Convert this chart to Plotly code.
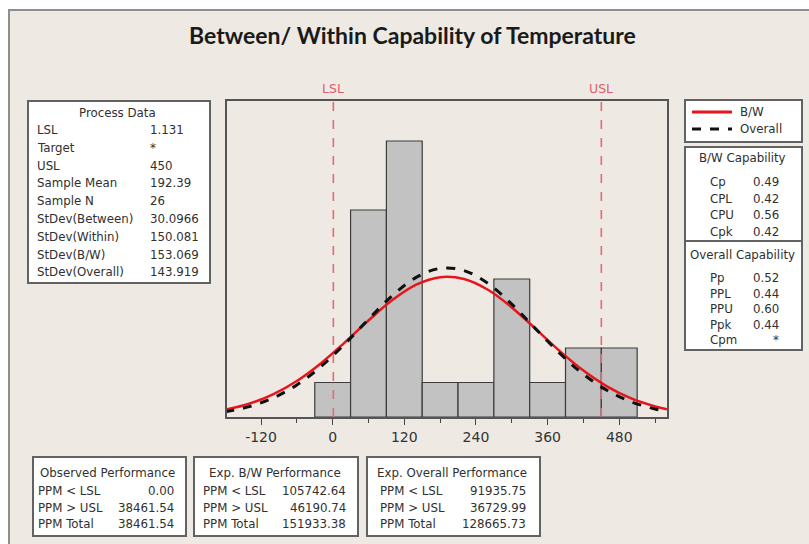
import plotly.graph_objects as go

W, H = 809, 544

# ---- data ----
bin_centers = [0, 60, 120, 180, 240, 300, 360, 420, 480]
bin_counts = [1, 6, 8, 1, 1, 4, 1, 2, 2]
bin_width = 60

curve_x = [-180, -140, -100, -60, -20, 20, 60, 100, 140, 180, 220, 260, 300, 340, 380, 420, 460, 500, 540, 560]
curve_bw = [0.211, 0.385, 0.656, 1.044, 1.553, 2.157, 2.797, 3.389, 3.835, 4.053, 4.000, 3.688, 3.176, 2.554,
            1.918, 1.346, 0.882, 0.540, 0.309, 0.227]
curve_overall = [0.152, 0.300, 0.549, 0.929, 1.455, 2.110, 2.832, 3.519, 4.047, 4.308, 4.245, 3.872, 3.270, 2.555,
                 1.849, 1.238, 0.768, 0.440, 0.234, 0.166]

LSL, USL = 1.131, 450
tick_vals = [-120, 0, 120, 240, 360, 480]
tick_text = ["-120", "0", "120", "240", "360", "480"]

process_labels = ["LSL", "Target", "USL", "Sample Mean", "Sample N", "StDev(Between)", "StDev(Within)",
                  "StDev(B/W)", "StDev(Overall)"]
process_values = ["1.131", "*", "450", "192.39", "26", "30.0966", "150.081", "153.069", "143.919"]

bw_cap_labels = ["Cp", "CPL", "CPU", "Cpk"]
bw_cap_values = ["0.49", "0.42", "0.56", "0.42"]
ov_cap_labels = ["Pp", "PPL", "PPU", "Ppk", "Cpm"]
ov_cap_values = ["0.52", "0.44", "0.60", "0.44", "*"]

perf_labels = ["PPM < LSL", "PPM > USL", "PPM Total"]
obs_values = ["0.00", "38461.54", "38461.54"]
bw_values = ["105742.64", "46190.74", "151933.38"]
ov_values = ["91935.75", "36729.99", "128665.73"]


def px(x):
    return x / W


def py(y):
    return 1 - y / H


TXT = "#303030"
FONT = "DejaVu Sans"
FS = 11.8

fig = go.Figure()

fig.add_trace(go.Bar(x=bin_centers, y=bin_counts, width=bin_width,
                     marker=dict(color="#C2C2C2", line=dict(color="#3c3c3c", width=1.2)),
                     showlegend=False, hoverinfo="skip"))
fig.add_trace(go.Scatter(x=curve_x, y=curve_bw, mode="lines", line_shape="spline",
                         line=dict(color="#E8141C", width=2.5), showlegend=False))
fig.add_trace(go.Scatter(x=curve_x, y=curve_overall, mode="lines", line_shape="spline",
                         line=dict(color="#111111", width=3, dash="dash"), showlegend=False))

shapes = []
annotations = []

# outer frame
shapes.append(dict(type="rect", xref="paper", yref="paper", x0=px(9), x1=px(830), y0=py(560), y1=py(10),
                   line=dict(color="#8e8e8e", width=2), fillcolor="#EEEAE3", layer="below"))

x0p, x1p, y0p, y1p = 227, 667, 101, 417

# spec lines
for v in (LSL, USL):
    shapes.append(dict(type="line", xref="x", yref="paper", x0=v, x1=v, y0=py(y1p), y1=py(y0p),
                       line=dict(color="#E06C78", width=1.6, dash="dash")))
for name, v in (("LSL", LSL), ("USL", USL)):
    annotations.append(dict(text=name, x=v, xref="x", y=py(89), yref="paper", showarrow=False,
                            font=dict(family=FONT, size=12.5, color="#D9606C"), xanchor="center", yanchor="middle"))

# title
annotations.append(dict(text="<b>Between/ Within Capability of Temperature</b>", x=px(412), y=py(35),
                        xref="paper", yref="paper", showarrow=False,
                        font=dict(family="Lato", size=23, color="#1a1a1a"), xanchor="center", yanchor="middle"))


def box(xa, ya, xb, yb):
    shapes.append(dict(type="rect", xref="paper", yref="paper", x0=px(xa), x1=px(xb), y0=py(yb), y1=py(ya),
                       line=dict(color="#626262", width=2), fillcolor="#FFFFFF"))


def txt(s, x, y, anchor="left", size=FS):
    annotations.append(dict(text=s, x=px(x), y=py(y), xref="paper", yref="paper", showarrow=False,
                            font=dict(family=FONT, size=size, color=TXT), xanchor=anchor, yanchor="middle"))


# Process data
box(28, 101, 210, 283)
txt("Process Data", 117, 113, "center")
for i, (l, v) in enumerate(zip(process_labels, process_values)):
    y = 130 + 17.8 * i
    txt(l, 35, y)
    txt(v, 148, y)

# legend box
box(685, 100, 802, 142)
shapes.append(dict(type="line", xref="paper", yref="paper", x0=px(692), x1=px(732), y0=py(112), y1=py(112),
                   line=dict(color="#E8141C", width=3)))
shapes.append(dict(type="line", xref="paper", yref="paper", x0=px(692), x1=px(732), y0=py(129), y1=py(129),
                   line=dict(color="#111111", width=3, dash="dash")))
txt("B/W", 738, 112)
txt("Overall", 738, 129)

# capability box
box(685, 147, 802, 350)
shapes.append(dict(type="line", xref="paper", yref="paper", x0=px(685), x1=px(802), y0=py(241), y1=py(241),
                   line=dict(color="#626262", width=2)))
txt("B/W Capability", 742, 158, "center")
for i, (l, v) in enumerate(zip(bw_cap_labels, bw_cap_values)):
    y = 182 + 16.6 * i
    txt(l, 708, y)
    txt(v, 781, y, "right")
txt("Overall Capability", 742, 255, "center")
for i, (l, v) in enumerate(zip(ov_cap_labels, ov_cap_values)):
    y = 278 + 15.6 * i
    txt(l, 708, y)
    txt(v, 781, y, "right")

# performance boxes
perf_boxes = [
    ("Observed Performance", obs_values, 33, 186, 36, 176, 107),
    ("Exp. B/W Performance", bw_values, 194, 358, 201, 348, 275),
    ("Exp. Overall Performance", ov_values, 367, 540, 378, 528, 452),
]
for title, vals, xa, xb, lx, vx, cx in perf_boxes:
    box(xa, 457, xb, 536)
    txt(title, cx, 473, "center")
    for i, (l, v) in enumerate(zip(perf_labels, vals)):
        y = 491 + 16.5 * i
        txt(l, lx, y)
        txt(v, vx, y, "right")

fig.update_layout(
    width=W, height=H, autosize=False,
    margin=dict(l=0, r=0, t=0, b=0),
    paper_bgcolor="white", plot_bgcolor="white",
    shapes=shapes, annotations=annotations,
    showlegend=False,
    xaxis=dict(domain=[px(x0p), px(x1p)], range=[-177, 560], tickvals=tick_vals, ticktext=tick_text,
               ticks="outside", ticklen=6, tickcolor="#444", tickwidth=1,
               minor=dict(dtick=60, tick0=0, ticks="outside", ticklen=4, tickcolor="#444"),
               showgrid=False, zeroline=False, showline=True, linecolor="#555", linewidth=1.5, mirror=True,
               tickfont=dict(family=FONT, size=14, color="#333")),
    yaxis=dict(domain=[py(y1p), py(y0p)], range=[0, 9.16], showticklabels=False, ticks="",
               showgrid=False, zeroline=False, showline=True, linecolor="#555", linewidth=1.5, mirror=True),
)

fig.write_html("out.html", config={"displayModeBar": False},
               post_script="document.body.style.margin='0';document.body.style.overflow='hidden';")
